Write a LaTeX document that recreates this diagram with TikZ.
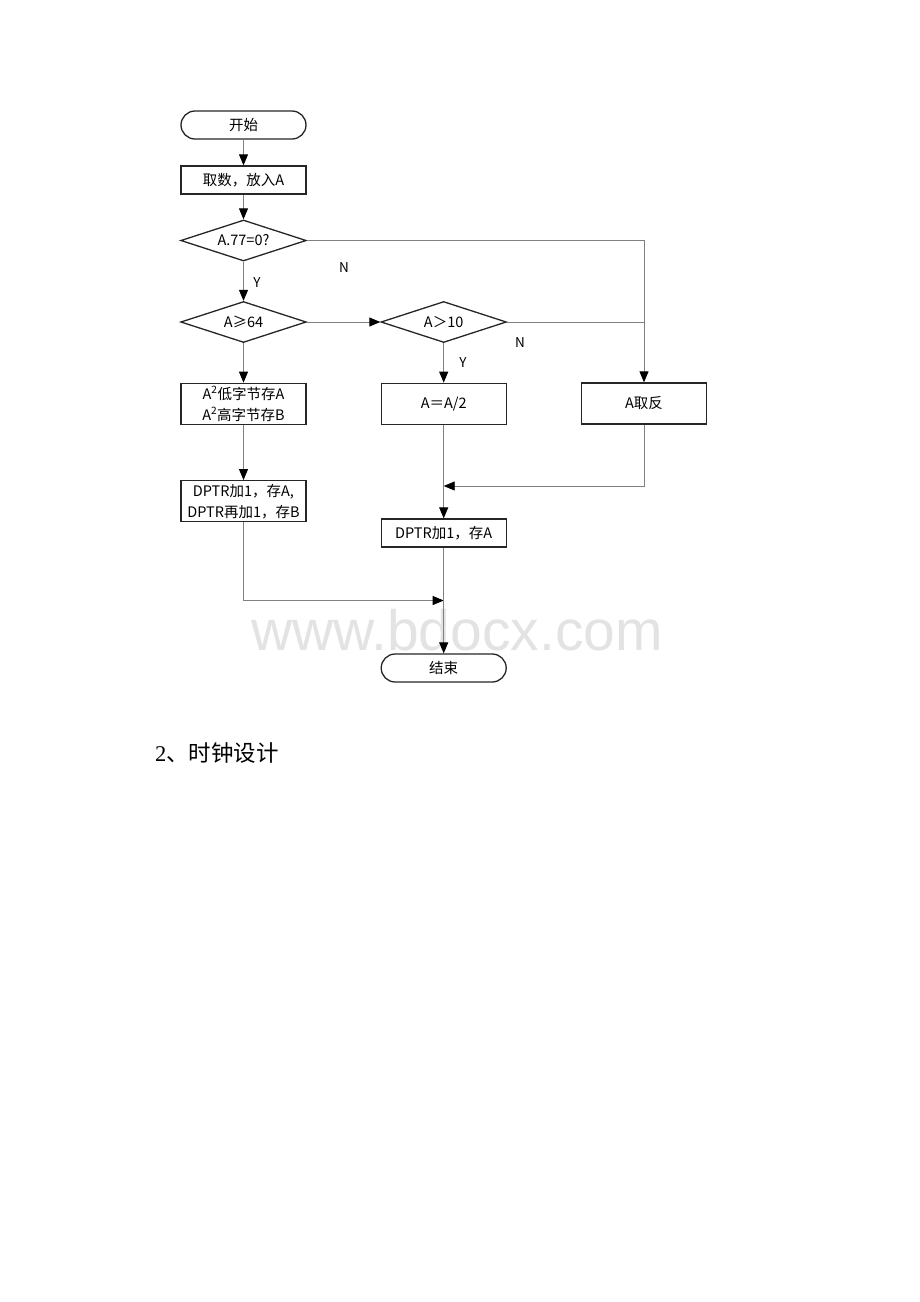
\documentclass[tikz,border=0pt]{standalone}
\usepackage{fontspec}
\setmainfont{Noto Sans CJK SC}
\newfontfamily\wmfont{Liberation Sans}
\newfontfamily\serfont{Liberation Serif}
\newfontfamily\cjk{Noto Sans CJK SC}
\usetikzlibrary{arrows.meta,shapes.geometric,shapes.misc}
\begin{document}
\begin{tikzpicture}[x=1pt,y=-1pt,
  every node/.style={inner sep=0pt, font=\fontsize{14.5}{21}\selectfont},
  boxn/.style={draw=black!85, line width=1.3pt, rectangle, minimum width=125pt, minimum height=41pt, align=center},
  decn/.style={draw=black!85, line width=1.3pt, diamond, shape aspect=3, minimum width=125.5pt, minimum height=41pt},
  termn/.style={draw=black!85, line width=1.3pt, rounded rectangle, minimum width=125pt, minimum height=28pt},
  conn/.style={draw=black!50, line width=0.9pt},
  arr/.style={conn, -{Triangle[length=11pt,width=9pt,color=black]}},
  lbl/.style={font=\fontsize{13.5}{15}\selectfont}
]
\useasboundingbox[fill=white] (0,0) rectangle (920,1302);
% watermark
\node[anchor=base, text=black!11, font=\wmfont\fontsize{57}{60}\selectfont] (wm) at (457,650) {www.bdocx.com};
% nodes
\node[termn] (start) at (243.5,125) {开始};
\node[boxn, minimum height=28pt] (b0) at (243.5,180) {取数，放入A};
\node[decn] (d1) at (243.5,240.5) {A.77=0?};
\node[decn] (d2) at (243.5,322) {A≥64};
\node[decn] (d3) at (443.7,322) {A＞10};
\node[boxn] (b1) at (243.5,403.8) {A\textsuperscript{2}低字节存A\\A\textsuperscript{2}高字节存B};
\node[boxn] (b2) at (443.7,403.8) {A＝A/2};
\node[boxn] (b3) at (644,403.5) {A取反};
\node[boxn] (b5) at (243.5,501.2) {DPTR加1，存A,\\DPTR再加1，存B};
\node[boxn, minimum height=28pt] (b4) at (443.7,533) {DPTR加1，存A};
\node[termn] (end) at (443.7,668) {结束};
% labels
\node[lbl] (y1) at (257,283) {Y};
\node[lbl] (n1) at (344,268) {N};
\node[lbl] (y2) at (463,363) {Y};
\node[lbl] (n2) at (520,343) {N};
% junctions
\coordinate (j1) at (443.7,486);
\coordinate (j2) at (443.7,600.5);
% connectors
\draw[arr] (start) -- (b0);
\draw[arr] (b0) -- (d1);
\draw[arr] (d1) -- (d2);
\draw[arr] (d1.east) -| (b3.north);
\draw[arr] (d2.east) -- (d3.west);
\draw[conn] (d3.east) -- (d3.east -| b3.north);
\draw[arr] (d2) -- (b1);
\draw[arr] (d3) -- (b2);
\draw[arr] (b1) -- (b5);
\draw[arr] (b2) -- (b4);
\draw[arr] (b3.south) |- (j1);
\draw[arr] (b5.south) |- (j2);
\draw[arr] (b4) -- (end);
% heading
\node[anchor=base west, font=\fontsize{22.5}{26}\selectfont] (h) at (155,761) {{\serfont 2}、时钟设计};
\end{tikzpicture}
\end{document}
